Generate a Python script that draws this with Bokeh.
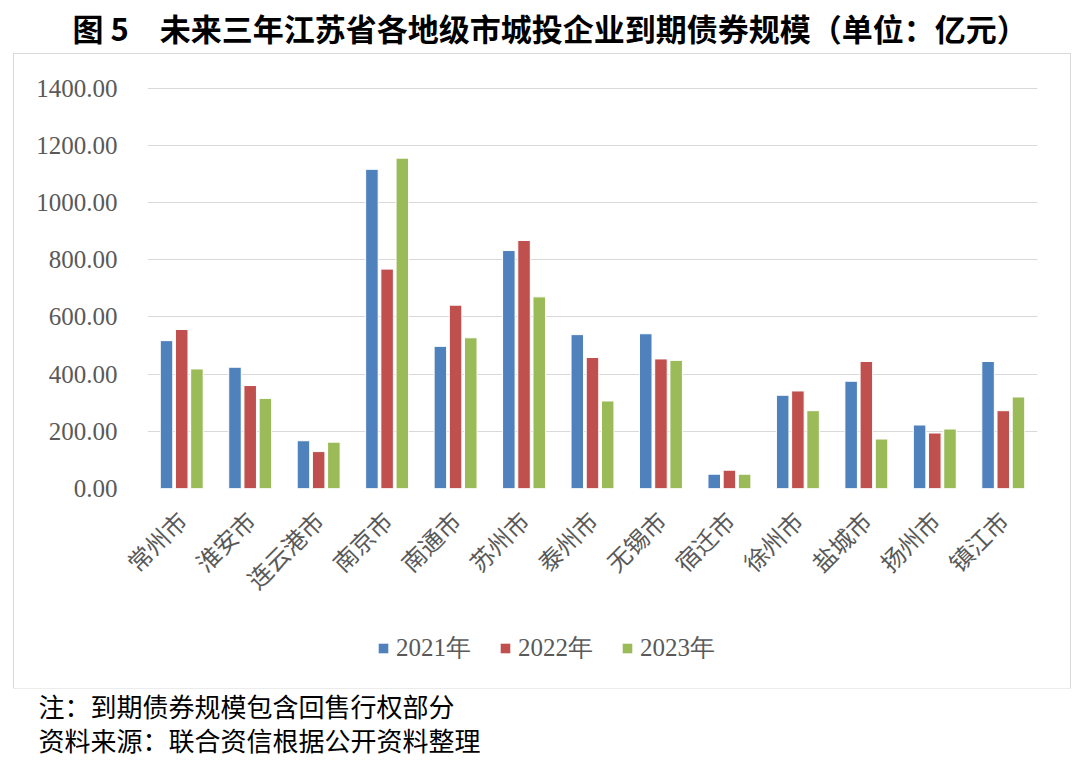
from math import pi
from bokeh.plotting import figure
from bokeh.layouts import column
from bokeh.models import (ColumnDataSource, FactorRange, Range1d, Label,
                          Legend, LegendItem, NumeralTickFormatter, FixedTicker)
from bokeh.transform import dodge
from bokeh.embed import file_html
from bokeh.resources import INLINE

cities = ["常州市", "淮安市", "连云港市", "南京市", "南通市", "苏州市", "泰州市",
          "无锡市", "宿迁市", "徐州市", "盐城市", "扬州市", "镇江市"]
v2021 = [517, 424, 167, 1116, 497, 832, 538, 541, 50, 326, 375, 222, 444]
v2022 = [556, 360, 129, 767, 641, 867, 458, 453, 64, 341, 444, 194, 272]
v2023 = [418, 315, 162, 1155, 527, 670, 306, 448, 50, 272, 173, 208, 320]
years = ["2021年", "2022年", "2023年"]
y_ticks = [0, 200, 400, 600, 800, 1000, 1200, 1400]
colors = ["#4F81BD", "#C0504D", "#9BBB59"]
title_text = "图 5\u3000未来三年江苏省各地级市城投企业到期债券规模（单位：亿元）"
note1 = "注：到期债券规模包含回售行权部分"
note2 = "资料来源：联合资信根据公开资料整理"

W = 1080
BOX_L, BOX_R, BOX_T, BOX_B = 14, 1070, 54, 688
LEG_T = 620
BW = BOX_R - BOX_L
FL, FR, FT, FB = 147, 1037, 87, 488


def text_fig(w, h):
    f = figure(width=w, height=h, x_range=Range1d(0, w), y_range=Range1d(0, h),
               min_border=0, x_axis_type=None, y_axis_type=None,
               toolbar_location=None, output_backend="svg")
    f.outline_line_color = None
    f.background_fill_color = "white"
    f.border_fill_color = "white"
    return f


# header with title
header = text_fig(W, BOX_T)
header.add_layout(Label(x=72, y=BOX_T - 27, text=title_text, text_font="Noto Sans CJK SC",
                        text_font_style="bold", text_font_size="31px", text_color="black",
                        text_baseline="middle", text_align="left"))

# main chart
source = ColumnDataSource(data=dict(city=cities, y2021=v2021, y2022=v2022, y2023=v2023))
MH = LEG_T - BOX_T
p = figure(width=BW, height=MH, x_range=FactorRange(factors=cities), y_range=Range1d(0, 1402),
           output_backend="svg", toolbar_location=None,
           min_border_left=FL - BOX_L, min_border_right=BOX_R - FR,
           min_border_top=FT - BOX_T, min_border_bottom=LEG_T - FB)
p.outline_line_color = None
p.background_fill_color = "white"
p.border_fill_color = "white"

cols = ["y2021", "y2022", "y2023"]
offsets = [-0.222, 0.0, 0.222]
for col, off, c in zip(cols, offsets, colors):
    p.vbar(x=dodge("city", off, range=p.x_range), top=col, width=0.183, source=source,
           fill_color=c, line_color="white", line_width=1)

p.xgrid.grid_line_color = None
p.ygrid.grid_line_color = "#D9D9D9"
p.ygrid.grid_line_width = 1

p.yaxis.ticker = FixedTicker(ticks=y_ticks)
p.yaxis.formatter = NumeralTickFormatter(format="0.00")
p.yaxis.axis_line_color = None
p.yaxis.major_tick_line_color = None
p.yaxis.minor_tick_line_color = None
p.yaxis.major_tick_out = 0
p.yaxis.minor_tick_out = 0
p.yaxis.major_label_standoff = 30
p.yaxis.major_label_text_font = "Liberation Serif"
p.yaxis.major_label_text_font_size = "25px"
p.yaxis.major_label_text_color = "#595959"

p.xaxis.axis_line_color = None
p.xaxis.major_tick_line_color = None
p.xaxis.major_tick_out = 0
p.xaxis.major_label_orientation = pi / 4
p.xaxis.major_label_standoff = 27
p.xaxis.major_label_text_font = "Noto Sans CJK SC"
p.xaxis.major_label_text_font_size = "24px"
p.xaxis.major_label_text_color = "#595959"

# legend strip (inside the box); its frame is aligned with the chart frame.
# Key renderers use the same data with zero width, so they draw no bars.
LH = BOX_B - LEG_T
lf = figure(width=BW, height=LH, x_range=p.x_range, y_range=Range1d(-2, -1),
            min_border=0, x_axis_type=None, y_axis_type=None,
            toolbar_location=None, output_backend="svg")
lf.outline_line_color = None
lf.background_fill_color = "white"
lf.border_fill_color = "white"
leg_renderers = [lf.vbar(x=dodge("city", off, range=lf.x_range), top=col, width=0,
                         source=source, fill_color=c, line_color=None)
                 for col, off, c in zip(cols, offsets, colors)]
legend = Legend(items=[LegendItem(label=y, renderers=[r]) for y, r in zip(years, leg_renderers)],
                orientation="horizontal", location=(377 - FL, 24),
                glyph_width=12, glyph_height=12, label_standoff=7, spacing=28,
                padding=0, margin=0, border_line_color=None, background_fill_alpha=0,
                label_text_font="Liberation Serif", label_text_font_size="25px",
                label_text_color="#595959")
lf.add_layout(legend)

box = column(p, lf, spacing=0, margin=(0, W - BOX_R, 0, BOX_L),
             styles={"outline": "1.5px solid #D9D9D9"})

# notes
NH = 764 - BOX_B
notes = text_fig(W, NH)
notes.add_layout(Label(x=38, y=NH - (705 - BOX_B), text=note1, text_font="Noto Sans CJK SC",
                       text_font_size="26px", text_color="black",
                       text_baseline="middle", text_align="left"))
notes.add_layout(Label(x=38, y=NH - (739 - BOX_B), text=note2, text_font="Noto Sans CJK SC",
                       text_font_size="26px", text_color="black",
                       text_baseline="middle", text_align="left"))

page = column(header, box, notes, spacing=0)
open("out.html", "w").write(file_html(page, INLINE))
